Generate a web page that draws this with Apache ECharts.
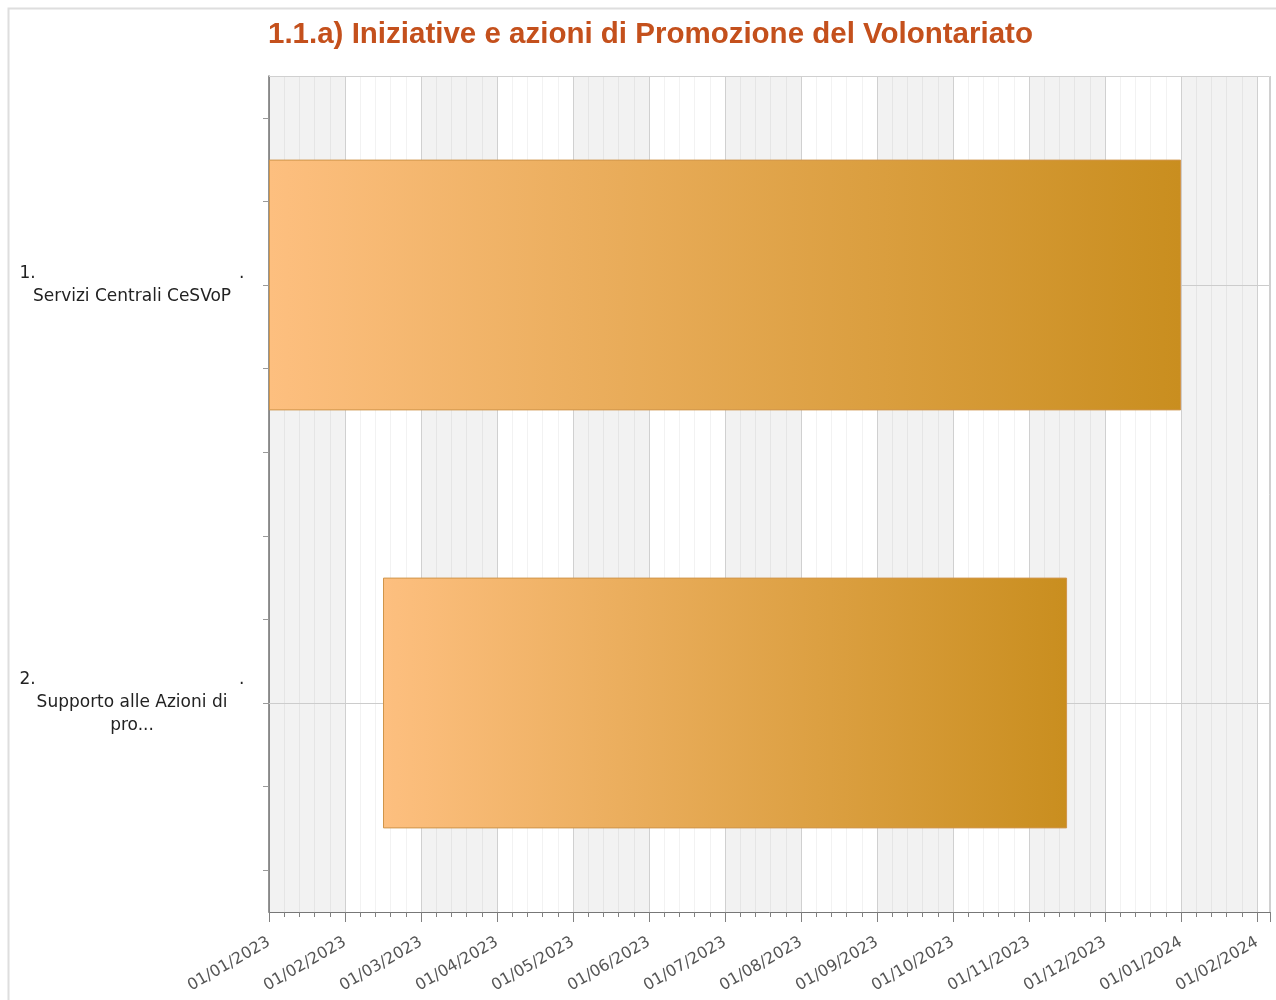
<!DOCTYPE html>
<html>
<head>
<meta charset="utf-8">
<title>1.1.a) Iniziative e azioni di Promozione del Volontariato</title>
<script src="https://cdn.jsdelivr.net/npm/echarts@6.0.0/dist/echarts.min.js"></script>
<style>
  html, body { margin: 0; padding: 0; background: #fff; }
  #chart { width: 1276px; height: 1000px; }
</style>
</head>
<body>
<div id="chart"></div>
<script>
// attività (asse Y) e relativi periodi
const taskNames = ['Servizi Centrali CeSVoP', 'Supporto alle Azioni di\npro...']
const startDates = ['2023-01-01', '2023-02-15']
const endDates = ['2024-01-01', '2023-11-16']

// etichette dell'asse X, una per mese
const monthLabels = [
  '01/01/2023', '01/02/2023', '01/03/2023', '01/04/2023', '01/05/2023',
  '01/06/2023', '01/07/2023', '01/08/2023', '01/09/2023', '01/10/2023',
  '01/11/2023', '01/12/2023', '01/01/2024', '01/02/2024',
]

// mesi trascorsi dal 01/01/2023 (con frazione del mese)
function monthOffset(str) {
  const [y, m, d] = str.split('-').map(Number)
  const days = new Date(y, m, 0).getDate()
  return (y - 2023) * 12 + (m - 1) + (d - 1) / days
}

const starts = startDates.map(monthOffset)
const durations = endDates.map((e, i) => monthOffset(e) - starts[i])

const chart = echarts.init(document.getElementById('chart'))

const barGradient = new echarts.graphic.LinearGradient(0, 0, 1, 0, [
  { offset: 0, color: '#fdbf7f' },
  { offset: 1, color: '#c98e1f' },
])

chart.setOption({
  animation: false,
  backgroundColor: '#fff',
  title: {
    text: '1.1.a) Iniziative e azioni di Promozione del Volontariato',
    left: 263,
    top: 15,
    textStyle: {
      color: '#c4501c',
      fontSize: 29.5,
      fontWeight: 'bold',
      fontFamily: 'Liberation Sans',
    },
  },
  graphic: [
    {
      type: 'rect',
      shape: { x: 8.5, y: 8.5, width: 1300, height: 1100 },
      style: { fill: null, stroke: '#dedede', lineWidth: 2 },
      silent: true,
    },
    {
      // bordo superiore e destro dell'area del grafico
      type: 'polyline',
      shape: { points: [[269, 76.5], [1269.5, 76.5], [1269.5, 912]] },
      style: { fill: null, stroke: '#d0d0d0', lineWidth: 1 },
      silent: true,
      z: 10,
    },
  ],
  grid: {
    left: 269,
    right: 6,
    top: 76,
    bottom: 88,
  },
  xAxis: {
    type: 'value',
    min: 0,
    max: 13.17,
    interval: 1,
    axisLine: { show: true, onZero: false, lineStyle: { color: '#777' } },
    axisTick: { show: true, length: 10, lineStyle: { color: '#808080' } },
    minorTick: { show: true, splitNumber: 5, length: 5, lineStyle: { color: '#808080' } },
    axisLabel: {
      rotate: 30,
      margin: 29,
      color: '#555',
      fontSize: 16,
      fontFamily: 'DejaVu Sans',
      showMaxLabel: true,
      formatter: (v) => monthLabels[v] || '',
    },
    splitLine: { show: true, lineStyle: { color: '#d0d0d0' } },
    minorSplitLine: { show: true, lineStyle: { color: 'rgba(0,0,0,0.05)' } },
    splitArea: { show: true, areaStyle: { color: ['#f2f2f2', '#ffffff'] } },
  },
  yAxis: [
    {
      type: 'category',
      data: taskNames,
      inverse: true,
      axisLine: { show: true, onZero: false, lineStyle: { color: '#707070', width: 1.5 } },
      axisTick: { show: false },
      splitLine: { show: false },
      axisLabel: {
        margin: 137,
        align: 'center',
        verticalAlign: 'middle',
        formatter: (v, i) => `{n|${i + 1}.}{d|.}\n{t|${v.split('\n').join('}\n{t|')}}`,
        rich: {
          n: { width: 219, align: 'left', fontSize: 17, lineHeight: 23, color: '#222', fontFamily: 'DejaVu Sans' },
          d: { width: 6, align: 'right', fontSize: 17, lineHeight: 23, color: '#222', fontFamily: 'DejaVu Sans' },
          t: { fontSize: 17, lineHeight: 23, color: '#222', fontFamily: 'DejaVu Sans' },
        },
      },
    },
    {
      // solo tacche: 10 suddivisioni della banda verticale
      type: 'value',
      position: 'left',
      min: 0,
      max: 10,
      interval: 1,
      inverse: true,
      axisLine: { show: false, onZero: false },
      axisTick: { show: false },
      axisLabel: { show: false },
      splitLine: { show: false },
      minorTick: { show: true, splitNumber: 2, length: 6, lineStyle: { color: '#999' } },
    },
  ],
  series: [
    {
      type: 'bar',
      stack: 'gantt',
      yAxisIndex: 0,
      silent: true,
      z: 1,
      barWidth: '60%',
      itemStyle: { color: 'transparent' },
      data: starts,
      // linee orizzontali al centro di ogni attività
      markLine: {
        silent: true,
        symbol: 'none',
        z: 1,
        label: { show: false },
        lineStyle: { color: '#cccccc', type: 'solid', width: 1 },
        data: taskNames.map((_, i) => ({ yAxis: i })),
      },
    },
    {
      type: 'bar',
      stack: 'gantt',
      yAxisIndex: 0,
      z: 3,
      barWidth: '60%',
      itemStyle: {
        color: barGradient,
        borderColor: '#d0954a',
        borderWidth: 1,
      },
      data: durations,
    },
  ],
})
</script>
</body>
</html>
